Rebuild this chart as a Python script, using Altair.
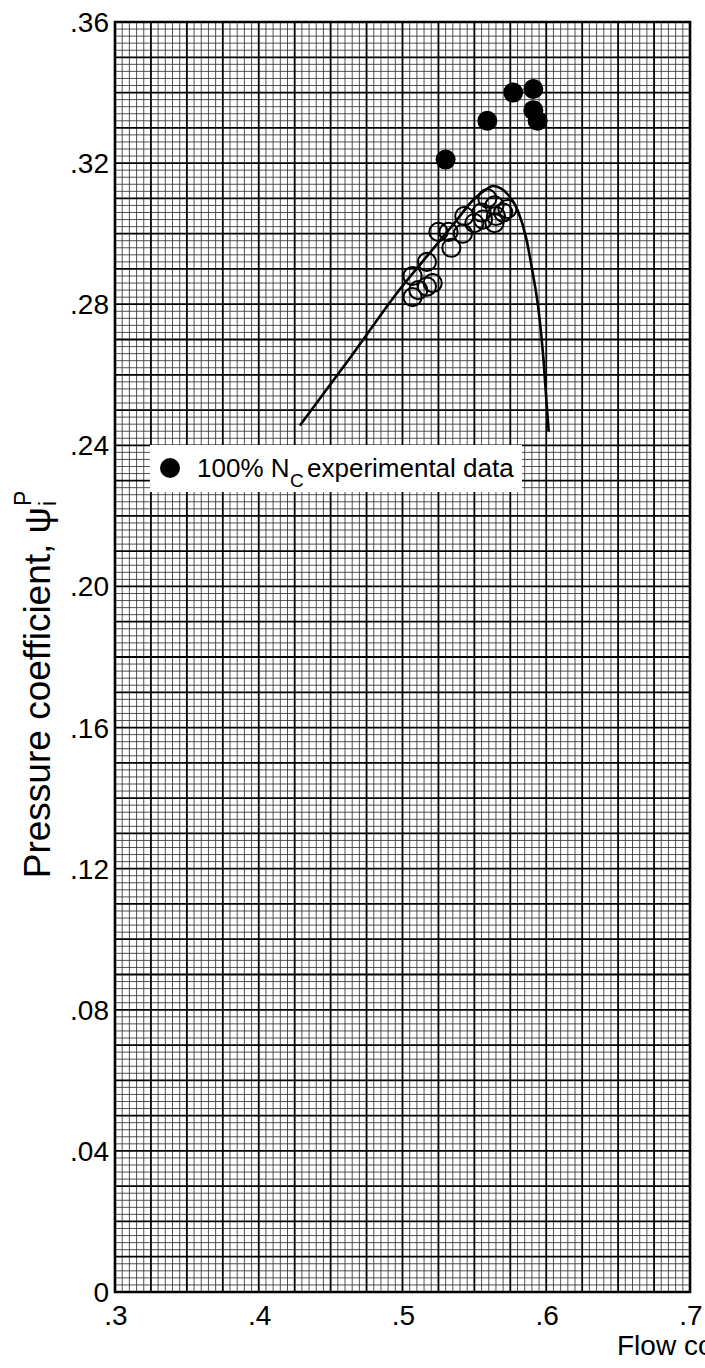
import altair as alt
import numpy as np
import pandas as pd

FONT = "Liberation Sans"

# Faired characteristic (solid curve), flow coefficient vs pressure coefficient
curve_phi = [0.4286, 0.4646, 0.4979, 0.5168, 0.5357, 0.5500, 0.5570, 0.5629,
             0.5733, 0.5803, 0.5860, 0.5904, 0.5948, 0.5980, 0.6000, 0.6017]
curve_psi = [0.2456, 0.2654, 0.2841, 0.2935, 0.3028, 0.3099, 0.3122, 0.3135,
             0.3111, 0.3064, 0.2988, 0.2893, 0.2779, 0.2647, 0.2533, 0.2439]

# Open symbols
open_phi = [0.507, 0.507, 0.511, 0.517, 0.517, 0.521, 0.525, 0.532, 0.534, 0.543,
            0.542, 0.550, 0.555, 0.556, 0.559, 0.564, 0.565, 0.570, 0.573, 0.564]
open_psi = [0.282, 0.288, 0.284, 0.285, 0.292, 0.286, 0.3005, 0.3005, 0.296, 0.305,
            0.300, 0.303, 0.306, 0.304, 0.310, 0.308, 0.305, 0.306, 0.307, 0.303]

# 100% Nc experimental data (filled symbols)
filled_phi = [0.530, 0.559, 0.577, 0.591, 0.591, 0.594]
filled_psi = [0.321, 0.332, 0.340, 0.341, 0.335, 0.332]

x_ticks = [0.3, 0.4, 0.5, 0.6, 0.7]
x_labels = [".3", ".4", ".5", ".6", ".7"]
y_ticks = [0.0, 0.04, 0.08, 0.12, 0.16, 0.20, 0.24, 0.28, 0.32, 0.36]
y_labels = ["0", ".04", ".08", ".12", ".16", ".20", ".24", ".28", ".32", ".36"]

W, H = 575, 1270
xs = alt.Scale(domain=[0.3, 0.7], nice=False, zero=False)
ys = alt.Scale(domain=[0.0, 0.36], nice=False, zero=False)

# graph-paper grid: fine lines every 0.005 / 0.002, heavy every fifth line
gx = np.round(np.arange(0.3, 0.70001, 0.005), 4)
gy = np.round(np.arange(0.0, 0.36001, 0.002), 4)
grid_x = pd.DataFrame({"v": gx, "major": [i % 5 == 0 for i in range(len(gx))]})
grid_y = pd.DataFrame({"v": gy, "major": [i % 5 == 0 for i in range(len(gy))]})

minor_x = alt.Chart(grid_x[~grid_x.major]).mark_rule(color="#333333", strokeWidth=0.85).encode(
    x=alt.X("v:Q", scale=xs, axis=None))
minor_y = alt.Chart(grid_y[~grid_y.major]).mark_rule(color="#333333", strokeWidth=0.85).encode(
    y=alt.Y("v:Q", scale=ys, axis=None))
major_x = alt.Chart(grid_x[grid_x.major]).mark_rule(color="black", strokeWidth=1.8).encode(
    x=alt.X("v:Q", scale=xs, axis=None))
major_y = alt.Chart(grid_y[grid_y.major]).mark_rule(color="black", strokeWidth=1.8).encode(
    y=alt.Y("v:Q", scale=ys, axis=None))

# tick labels
xl_df = pd.DataFrame({"v": x_ticks, "t": x_labels})
x_lab = alt.Chart(xl_df).mark_text(font=FONT, fontSize=28, align="center",
                                   baseline="alphabetic", color="black", dx=1).encode(
    x=alt.X("v:Q", scale=xs, axis=None), y=alt.value(H + 33), text="t:N")
yl_df = pd.DataFrame({"v": y_ticks, "t": y_labels})
y_lab = alt.Chart(yl_df).mark_text(font=FONT, fontSize=28, align="right",
                                   baseline="middle", color="black", dy=2).encode(
    x=alt.value(-6), y=alt.Y("v:Q", scale=ys, axis=None), text="t:N")

curve_df = pd.DataFrame({"phi": curve_phi, "psi": curve_psi, "k": range(len(curve_phi))})
curve = alt.Chart(curve_df).mark_line(color="black", strokeWidth=2.6, interpolate="monotone").encode(
    x=alt.X("phi:Q", scale=xs, axis=None),
    y=alt.Y("psi:Q", scale=ys, axis=None),
    order="k:Q",
)

open_df = pd.DataFrame({"phi": open_phi, "psi": open_psi})
opens = alt.Chart(open_df).mark_point(shape="circle", filled=False, color="black",
                                      strokeWidth=2.0, size=330, opacity=1).encode(
    x=alt.X("phi:Q", scale=xs, axis=None), y=alt.Y("psi:Q", scale=ys, axis=None))

filled_df = pd.DataFrame({"phi": filled_phi, "psi": filled_psi})
filled = alt.Chart(filled_df).mark_circle(color="black", size=400, opacity=1).encode(
    x=alt.X("phi:Q", scale=xs, axis=None), y=alt.Y("psi:Q", scale=ys, axis=None))

# key box
key_df = pd.DataFrame({"a": [0]})
key_box = alt.Chart(key_df).mark_rect(fill="white").encode(
    x=alt.value(35), x2=alt.value(407), y=alt.value(423), y2=alt.value(470))
key_dot = alt.Chart(key_df).mark_circle(color="black", size=400, opacity=1).encode(
    x=alt.value(55), y=alt.value(446))
key_t1 = alt.Chart(key_df).mark_text(text="100% N", font=FONT, fontSize=26, align="left",
                                     baseline="alphabetic", color="black").encode(
    x=alt.value(82), y=alt.value(455))
key_t2 = alt.Chart(key_df).mark_text(text="C", font=FONT, fontSize=19, align="left",
                                     baseline="alphabetic", color="black").encode(
    x=alt.value(175), y=alt.value(465))
key_t3 = alt.Chart(key_df).mark_text(text="experimental data", font=FONT, fontSize=26,
                                     align="left", baseline="alphabetic", color="black").encode(
    x=alt.value(192), y=alt.value(455))

# axis titles: x title runs off the right edge; rotated y title with psi, sup P, sub i
x_title = alt.Chart(key_df).mark_text(text="Flow coefficient, \u03c6", font=FONT, fontSize=28,
                                      align="left", baseline="alphabetic", color="black").encode(
    x=alt.value(502), y=alt.value(H + 63))
ytitle = alt.Chart(key_df).mark_text(text="Pressure coefficient, \u03c8", font=FONT, fontSize=37,
                                     angle=270, align="right", baseline="alphabetic",
                                     color="black").encode(
    x=alt.value(-65), y=alt.value(485))
ysup = alt.Chart(key_df).mark_text(text="P", font=FONT, fontSize=23, angle=270, align="left",
                                   baseline="alphabetic", color="black").encode(
    x=alt.value(-84), y=alt.value(484))
ysub = alt.Chart(key_df).mark_text(text="i", font=FONT, fontSize=23, angle=270, align="left",
                                   baseline="alphabetic", color="black").encode(
    x=alt.value(-59), y=alt.value(484))

chart = alt.layer(
    minor_x, minor_y, major_x, major_y, curve, opens, filled,
    key_box, key_dot, key_t1, key_t2, key_t3,
    x_lab, y_lab, x_title, ytitle, ysup, ysub,
).properties(
    width=W, height=H,
    autosize=alt.AutoSizeParams(type="none"),
    padding={"left": 115, "top": 22, "right": 15, "bottom": 76},
    background="white",
).configure_view(stroke="black", strokeWidth=2.6)

chart.save("out.html", embed_options={"renderer": "svg", "actions": False})
